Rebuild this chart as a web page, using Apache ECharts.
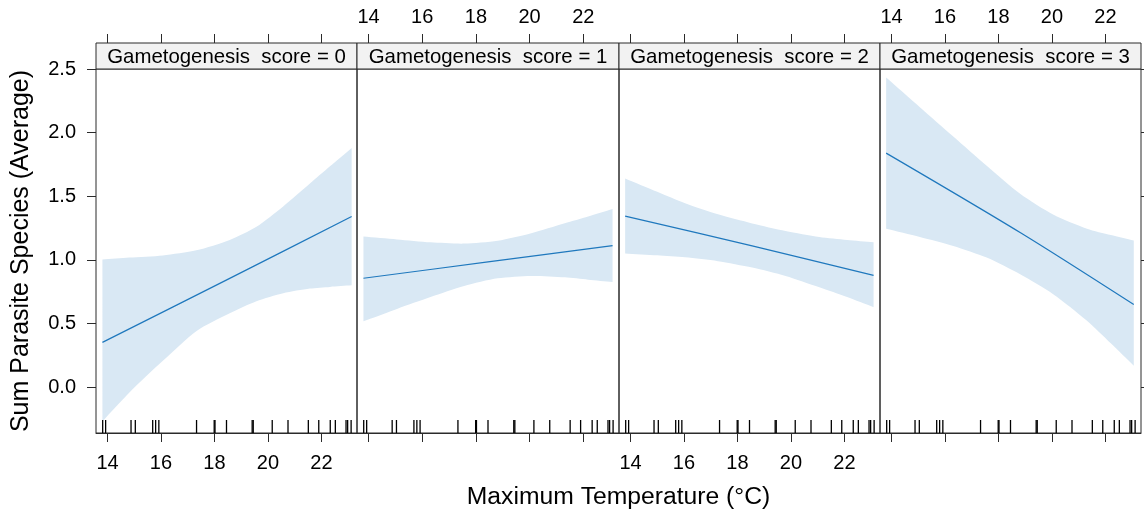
<!DOCTYPE html>
<html>
<head>
<meta charset="utf-8">
<script src="https://cdn.jsdelivr.net/npm/echarts@6/dist/echarts.min.js"></script>
<style>
  html, body { margin: 0; padding: 0; background: #fff; }
  #chart { width: 1144px; height: 518px; }
</style>
</head>
<body>
<div id="chart"></div>
<script>
// Panel labels and axis ticks
const panelTitles = [
  'Gametogenesis  score = 0',
  'Gametogenesis  score = 1',
  'Gametogenesis  score = 2',
  'Gametogenesis  score = 3'
];
const tempTicks = [14, 16, 18, 20, 22];
const countTicks = [0.0, 0.5, 1.0, 1.5, 2.0, 2.5];
const xTitle = 'Maximum Temperature (°C)';
const yTitle = 'Sum Parasite Species (Average)';

// Observed maximum temperatures (rug along the bottom of every panel)
const rugTemps = [13.82, 13.93, 14.88, 15.04, 15.69, 15.80, 15.92, 17.33, 17.99, 18.02,
  18.45, 19.41, 19.45, 20.16, 20.75, 21.51, 21.90, 22.33, 22.52, 22.92, 22.98, 23.11];

// Score 0: fitted mean and confidence band
const fitTemp0 = [13.81, 18.57, 23.13];
const fit0 = [0.352, 0.855, 1.341];
const bandTemp0 = [13.81, 14.81, 16.07, 17.32, 18.57, 19.57, 20.57, 21.57, 22.32, 23.13];
const lower0 = [-0.268, -0.043, 0.207, 0.440, 0.580, 0.675, 0.738, 0.775, 0.788, 0.800];
const upper0 = [1.003, 1.018, 1.035, 1.075, 1.157, 1.260, 1.420, 1.600, 1.735, 1.880];

// Score 1
const fitTemp1 = [13.81, 18.45, 23.09];
const fit1 = [0.856, 0.984, 1.112];
const bandTemp1 = [13.81, 15.06, 16.31, 17.56, 18.81, 20.06, 21.31, 22.18, 23.09];
const lower1 = [0.518, 0.615, 0.708, 0.795, 0.855, 0.874, 0.863, 0.845, 0.827];
const upper1 = [1.183, 1.161, 1.138, 1.128, 1.151, 1.210, 1.288, 1.341, 1.400];

// Score 2
const fitTemp2 = [13.80, 18.55, 23.09];
const fit2 = [1.344, 1.110, 0.879];
const bandTemp2 = [13.80, 15.00, 16.04, 17.27, 18.55, 19.80, 21.06, 22.10, 23.09];
const lower2 = [1.051, 1.036, 1.020, 0.990, 0.940, 0.874, 0.785, 0.708, 0.628];
const upper2 = [1.640, 1.535, 1.445, 1.358, 1.287, 1.228, 1.180, 1.157, 1.139];

// Score 3
const fitTemp3 = [13.80, 18.81, 23.06];
const fit3 = [1.839, 1.215, 0.649];
const bandTemp3 = [13.80, 15.06, 16.31, 17.56, 18.81, 20.06, 21.31, 22.20, 23.06];
const lower3 = [1.244, 1.180, 1.110, 1.018, 0.887, 0.729, 0.522, 0.345, 0.169];
const upper3 = [2.433, 2.200, 1.970, 1.740, 1.520, 1.355, 1.245, 1.195, 1.152];

const fits = [[fitTemp0, fit0], [fitTemp1, fit1], [fitTemp2, fit2], [fitTemp3, fit3]];
const bands = [
  [bandTemp0, lower0, upper0],
  [bandTemp1, lower1, upper1],
  [bandTemp2, lower2, upper2],
  [bandTemp3, lower3, upper3]
];

// Layout and style
const X_MIN = 13.57, X_MAX = 23.33, Y_MIN = -0.36, Y_MAX = 2.5;
const panelEdges = [96, 357, 619, 880, 1141];
const PANEL_TOP = 69, PANEL_H = 364, STRIP_H = 26;
const FONT = '"Liberation Sans", Arial, sans-serif';
const FRAME = '#2b2b2b';
const LINE = '#1f78bd';
const BAND = '#d9e8f4';

const grids = [], xAxes = [], yAxes = [], series = [], graphics = [];

// Closed outline of a band: upper edge left->right, lower edge right->left.
// Corner points are doubled so the smoothing keeps the vertical ends straight.
function bandOutline(api, temps, lo, hi) {
  const up = temps.map((t, k) => api.coord([t, hi[k]]));
  const dn = temps.map((t, k) => api.coord([t, lo[k]])).reverse();
  const pts = [];
  up.forEach((p, k) => { pts.push(p); if (k === 0 || k === up.length - 1) pts.push(p.slice()); });
  dn.forEach((p, k) => { pts.push(p); if (k === 0 || k === dn.length - 1) pts.push(p.slice()); });
  return pts;
}

for (let i = 0; i < 4; i++) {
  const left = panelEdges[i], width = panelEdges[i + 1] - panelEdges[i];
  grids.push({
    left: left, top: PANEL_TOP, width: width, height: PANEL_H,
    show: true, borderColor: FRAME, borderWidth: 1, backgroundColor: 'transparent',
    containLabel: false, outerBoundsMode: 'none'
  });
  const tickStyle = { color: FRAME, width: 1 };
  const labelStyle = { fontSize: 20, fontFamily: FONT, color: '#000' };
  // bottom axis (labels on panels 1 and 3)
  xAxes.push({
    gridIndex: i, type: 'value', min: X_MIN, max: X_MAX, position: 'bottom',
    axisLine: { show: true, onZero: false, lineStyle: tickStyle },
    axisTick: { show: true, length: 9, inside: false, customValues: tempTicks, lineStyle: tickStyle },
    axisLabel: Object.assign({ show: i % 2 === 0, customValues: tempTicks, margin: 20 }, labelStyle),
    splitLine: { show: false }
  });
  // top axis above the strip (labels on panels 2 and 4)
  xAxes.push({
    gridIndex: i, type: 'value', min: X_MIN, max: X_MAX, position: 'top', offset: STRIP_H,
    axisLine: { show: false, onZero: false },
    axisTick: { show: true, length: 9, inside: false, customValues: tempTicks, lineStyle: tickStyle },
    axisLabel: Object.assign({ show: i % 2 === 1, customValues: tempTicks, margin: 16 }, labelStyle),
    splitLine: { show: false }
  });
  yAxes.push({
    gridIndex: i, type: 'value', min: Y_MIN, max: Y_MAX, position: 'left',
    axisLine: { show: false, onZero: false },
    axisTick: { show: i === 0, length: 9, customValues: countTicks, lineStyle: tickStyle },
    axisLabel: Object.assign({
      show: i === 0, customValues: countTicks, margin: 20,
      formatter: v => Number(v).toFixed(1)
    }, labelStyle),
    splitLine: { show: false }
  });

  // strip with the panel label
  graphics.push({
    type: 'rect', x: left, y: PANEL_TOP - STRIP_H,
    shape: { width: width, height: STRIP_H },
    style: { fill: '#f2f2f2', stroke: FRAME, lineWidth: 1 }, z: 5
  });
  graphics.push({
    type: 'text', x: left + width / 2, y: PANEL_TOP - STRIP_H / 2 + 1,
    style: { text: panelTitles[i], align: 'center', verticalAlign: 'middle',
      fontSize: 20.4, fontFamily: FONT, fill: '#000' }, z: 6
  });

  const [bt, lo, hi] = bands[i];
  // confidence band
  series.push({
    type: 'custom', xAxisIndex: 2 * i, yAxisIndex: i,
    data: bt.map((t, k) => [t, lo[k], hi[k]]),
    encode: { x: 0, y: [1, 2] },
    renderItem: (params, api) => {
      if (params.dataIndex !== 0) return null;
      return {
        type: 'polygon',
        shape: { points: bandOutline(api, bt, lo, hi), smooth: 0.25 },
        style: { fill: BAND, stroke: null }
      };
    },
    silent: true, z: 1
  });
  // fitted mean
  const [ft, fv] = fits[i];
  series.push({
    type: 'line', xAxisIndex: 2 * i, yAxisIndex: i,
    data: ft.map((t, k) => [t, fv[k]]),
    symbol: 'none', smooth: 0.3,
    lineStyle: { color: LINE, width: 1.2 }, silent: true, z: 3
  });
  // rug of observed temperatures
  series.push({
    type: 'custom', xAxisIndex: 2 * i, yAxisIndex: i,
    data: rugTemps.map(t => [t, Y_MIN]),
    renderItem: (params, api) => {
      const p = api.coord([api.value(0), api.value(1)]);
      return {
        type: 'line',
        shape: { x1: p[0], y1: p[1], x2: p[0], y2: p[1] - 13 },
        style: { stroke: '#000', lineWidth: 1.3 }
      };
    },
    silent: true, z: 4
  });
}
// right-hand ticks on the last panel
yAxes.push({
  gridIndex: 3, type: 'value', min: Y_MIN, max: Y_MAX, position: 'right',
  axisLine: { show: false, onZero: false },
  axisTick: { show: true, length: 9, customValues: countTicks, lineStyle: { color: FRAME, width: 1 } },
  axisLabel: { show: false },
  splitLine: { show: false }
});

// axis titles
graphics.push({
  type: 'text', x: (panelEdges[0] + panelEdges[4]) / 2, y: 497,
  style: { text: xTitle, align: 'center', verticalAlign: 'middle',
    fontSize: 24.7, fontFamily: FONT, fill: '#000' }
});
graphics.push({
  type: 'text', x: 21, y: PANEL_TOP + PANEL_H / 2, rotation: Math.PI / 2,
  style: { text: yTitle, align: 'center', verticalAlign: 'middle',
    fontSize: 25, fontFamily: FONT, fill: '#000' }
});

const chart = echarts.init(document.getElementById('chart'), null, { renderer: 'canvas' });
chart.setOption({
  animation: false,
  backgroundColor: '#fff',
  grid: grids,
  xAxis: xAxes,
  yAxis: yAxes,
  series: series,
  graphic: graphics
});
</script>
</body>
</html>
